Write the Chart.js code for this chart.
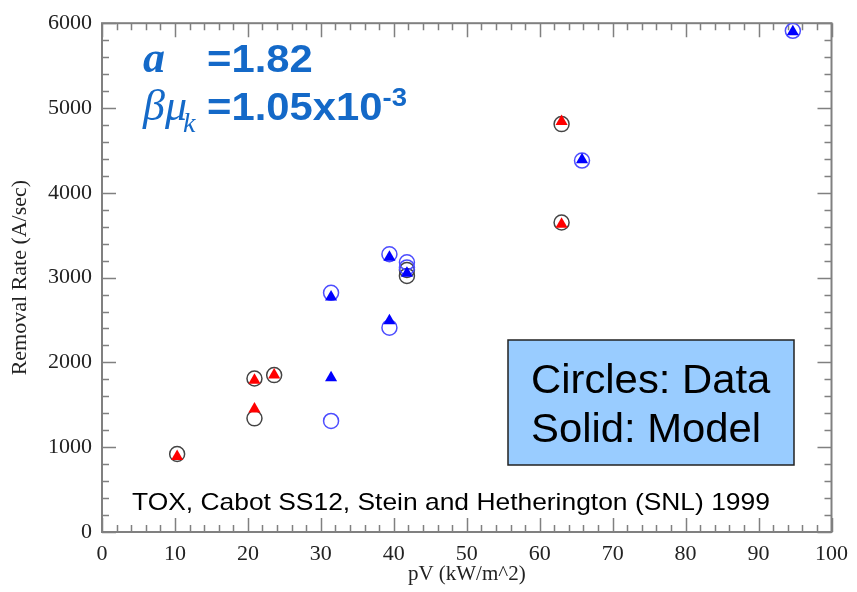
<!DOCTYPE html>
<html>
<head>
<meta charset="utf-8">
<script src="https://cdn.jsdelivr.net/npm/chart.js@4/dist/chart.umd.min.js"></script>
<style>
  html, body { margin: 0; padding: 0; background: #fff; }
  #wrap { width: 857px; height: 592px; }
</style>
</head>
<body>
<div id="wrap"><canvas id="grafico"></canvas></div>
<script>
// data
const pvBlack = [10.3, 20.9, 20.9, 23.6, 41.8, 41.8, 63.0, 63.0];
const rateBlack = [920, 1810, 1340, 1850, 3090, 3020, 4810, 3650];

const pvRed = [10.3, 20.9, 20.9, 23.6, 63.0, 63.0];
const rateRed = [890, 1790, 1450, 1850, 4840, 3630];

const pvBlue = [31.4, 31.4, 39.4, 39.4, 41.8, 41.8, 65.8, 94.7];
const rateBlue = [2820, 1310, 3275, 2410, 3180, 3120, 4380, 5910];

const pvBlueModel = [31.4, 31.4, 39.4, 39.4, 41.8, 65.8, 94.7];
const rateBlueModel = [2770, 1820, 3240, 2490, 3050, 4390, 5900];

const xTicks = [0, 10, 20, 30, 40, 50, 60, 70, 80, 90, 100];
const yTicks = [0, 1000, 2000, 3000, 4000, 5000, 6000];

const fitaAzul = '#1469c8';

function pontos(xs, ys) {
    return xs.map((x, i) => ({ x: x, y: ys[i] }));
}

function texto(ctx, s, x, y, font, cor, sx) {
    ctx.save();
    ctx.font = font;
    ctx.fillStyle = cor;
    ctx.textBaseline = 'alphabetic';
    ctx.textAlign = 'left';
    ctx.translate(x, y);
    ctx.scale(sx, 1);
    ctx.fillText(s, 0, 0);
    const w = ctx.measureText(s).width * sx;
    ctx.restore();
    return w;
}

// frame with inward ticks on all four sides
const molduraPlugin = {
    id: 'moldura',
    beforeDatasetsDraw(chart) {
        const { ctx, chartArea: a } = chart;
        const sx = chart.scales.x, sy = chart.scales.y;
        ctx.save();
        ctx.strokeStyle = '#808080';
        ctx.lineWidth = 1.5;
        ctx.beginPath();
        for (let v = sx.min; v <= sx.max + 0.001; v += 2) {
            const p = Math.round(sx.getPixelForValue(v)) + 0.5;
            const len = (v % 10 === 0) ? 14 : 7;
            ctx.moveTo(p, a.bottom); ctx.lineTo(p, a.bottom - len);
            ctx.moveTo(p, a.top); ctx.lineTo(p, a.top + len);
        }
        for (let v = sy.min; v <= sy.max + 0.001; v += 200) {
            const p = Math.round(sy.getPixelForValue(v)) + 0.5;
            const len = (v % 1000 === 0) ? 14 : 7;
            ctx.moveTo(a.left, p); ctx.lineTo(a.left + len, p);
            ctx.moveTo(a.right, p); ctx.lineTo(a.right - len, p);
        }
        ctx.stroke();
        ctx.lineWidth = 2;
        ctx.strokeRect(a.left, a.top, a.right - a.left, a.bottom - a.top);
        ctx.restore();
    }
};

// formula, legend box and caption
const anotacoesPlugin = {
    id: 'anotacoes',
    afterDraw(chart) {
        const ctx = chart.ctx;
        // a = 1.82
        texto(ctx, 'a', 143, 72, 'italic bold 44px "Liberation Serif"', fitaAzul, 1.0);
        texto(ctx, '=1.82', 207, 72, 'bold 38px "Liberation Sans"', fitaAzul, 1.1);
        // beta mu_k = 1.05x10^-3
        let x = 143;
        x += texto(ctx, 'βμ', x, 120, 'italic 44px "Liberation Serif"', fitaAzul, 1.0);
        texto(ctx, 'k', x - 4, 132, 'italic 28px "Liberation Serif"', fitaAzul, 1.0);
        const w = texto(ctx, '=1.05x10', 207, 120, 'bold 38px "Liberation Sans"', fitaAzul, 1.1);
        texto(ctx, '-3', 207 + w, 106, 'bold 25px "Liberation Sans"', fitaAzul, 1.1);

        // legend box
        ctx.save();
        ctx.fillStyle = '#99ccff';
        ctx.strokeStyle = '#222';
        ctx.lineWidth = 1.5;
        ctx.fillRect(508, 340, 286, 125);
        ctx.strokeRect(508, 340, 286, 125);
        ctx.restore();
        texto(ctx, 'Circles: Data', 531, 393, '41px "Liberation Sans"', '#000', 1.02);
        texto(ctx, 'Solid: Model', 531, 442, '41px "Liberation Sans"', '#000', 1.02);

        // caption
        texto(ctx, 'TOX, Cabot SS12, Stein and Hetherington (SNL) 1999', 132, 510,
            '24px "Liberation Sans"', '#000', 1.1);
    }
};

const ctx = document.getElementById('grafico').getContext('2d');
new Chart(ctx, {
    type: 'scatter',
    data: {
        datasets: [
            {
                label: 'Model (blue)',
                data: pontos(pvBlueModel, rateBlueModel),
                pointStyle: 'triangle',
                pointRadius: 7,
                backgroundColor: '#0000ff',
                borderColor: '#0000ff',
                borderWidth: 0
            },
            {
                label: 'Model (red)',
                data: pontos(pvRed, rateRed),
                pointStyle: 'triangle',
                pointRadius: 7,
                backgroundColor: '#ff0000',
                borderColor: '#ff0000',
                borderWidth: 0
            },
            {
                label: 'Data (blue)',
                data: pontos(pvBlue, rateBlue),
                pointStyle: 'circle',
                pointRadius: 7.5,
                backgroundColor: 'rgba(0,0,0,0)',
                borderColor: '#4d4dff',
                borderWidth: 1.5
            },
            {
                label: 'Data (black)',
                data: pontos(pvBlack, rateBlack),
                pointStyle: 'circle',
                pointRadius: 7.5,
                backgroundColor: 'rgba(0,0,0,0)',
                borderColor: '#444',
                borderWidth: 1.5
            }
        ]
    },
    options: {
        responsive: true,
        maintainAspectRatio: false,
        animation: false,
        layout: { padding: { left: 0, right: 19, top: 17, bottom: 0 } },
        plugins: {
            legend: { display: false },
            tooltip: { enabled: false }
        },
        scales: {
            x: {
                type: 'linear',
                min: 0,
                max: 100,
                afterBuildTicks: (s) => { s.ticks = xTicks.map(v => ({ value: v })); },
                afterFit: (s) => { s.height = 60; },
                grid: { display: false, drawTicks: false },
                border: { display: false },
                ticks: {
                    padding: 9,
                    color: '#222',
                    callback: (v) => String(v),
                    font: { family: '"Liberation Serif"', size: 22 }
                },
                title: {
                    display: true,
                    text: 'pV (kW/m^2)',
                    color: '#222',
                    font: { family: '"Liberation Serif"', size: 21 },
                    padding: { top: 0, bottom: 5 }
                }
            },
            y: {
                type: 'linear',
                min: 0,
                max: 6000,
                afterBuildTicks: (s) => { s.ticks = yTicks.map(v => ({ value: v })); },
                afterFit: (s) => { s.width = 102; },
                grid: { display: false, drawTicks: false },
                border: { display: false },
                ticks: {
                    padding: 10,
                    color: '#222',
                    callback: (v) => String(v),
                    font: { family: '"Liberation Serif"', size: 22 }
                },
                title: {
                    display: true,
                    text: 'Removal Rate (A/sec)',
                    color: '#222',
                    font: { family: '"Liberation Serif"', size: 22 },
                    padding: { top: 7, bottom: 0 }
                }
            }
        }
    },
    plugins: [molduraPlugin, anotacoesPlugin]
});
</script>
</body>
</html>
